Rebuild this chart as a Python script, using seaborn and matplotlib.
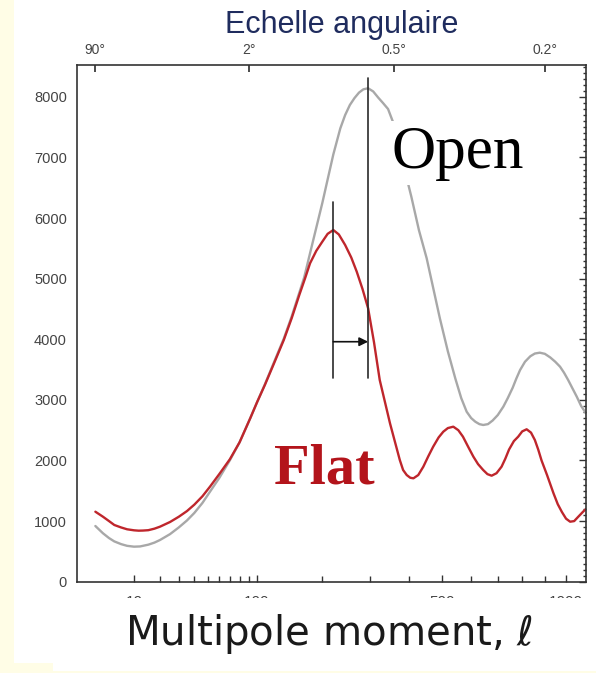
import numpy as np
import pandas as pd
import matplotlib
matplotlib.use("Agg")
import matplotlib.pyplot as plt
import seaborn as sns
from matplotlib.patches import Rectangle
from matplotlib.ticker import MultipleLocator, NullFormatter, NullLocator

# ---------------- data ----------------
ell_flat = [2, 3, 4, 5, 6.5, 8, 10, 11.5, 13, 15, 17.5, 20, 25, 30, 35, 40, 46, 52, 60, 70,
            80, 92, 100, 110, 122, 136, 148, 160, 170, 178, 189, 200, 210, 221, 232, 245,
            258, 270, 283, 296, 310, 324, 350, 376, 385, 395, 405, 414, 428, 443, 458,
            473, 490, 505, 520, 538, 555, 571, 590, 608, 625, 644, 660, 676, 695, 715,
            730, 745, 765, 783, 800, 819, 838, 855, 870, 885, 910, 940, 960, 980, 1000,
            1020, 1040, 1060, 1085, 1100]
cl_flat = [1155, 1073, 1000, 936, 895, 865, 848, 842, 844, 850, 875, 908, 985, 1073, 1165,
           1271, 1410, 1568, 1775, 2020, 2300, 2700, 2960, 3250, 3600, 3988, 4350, 4731,
           5020, 5254, 5460, 5611, 5740, 5803, 5730, 5556, 5350, 5116, 4830, 4511, 3950,
           3328, 2614, 2008, 1843, 1760, 1715, 1706, 1760, 1898, 2070, 2228, 2380, 2475,
           2535, 2558, 2500, 2393, 2220, 2063, 1940, 1843, 1775, 1749, 1790, 1898, 2030,
           2180, 2320, 2393, 2480, 2515, 2460, 2338, 2180, 2000, 1760, 1459, 1280, 1150,
           1040, 990, 1000, 1070, 1155, 1200]

ell_open = [2, 3, 4, 5, 6.5, 8, 10, 12, 15, 17.5, 20, 25, 30, 35, 40, 46, 52, 60, 70, 80,
            92, 100, 110, 122, 136, 148, 160, 168, 178, 190, 200, 209, 221, 235, 245, 255,
            265, 275, 285, 296, 308, 320, 332, 345, 360, 375, 390, 408, 430, 453, 475,
            494, 520, 545, 565, 584, 600, 615, 630, 644, 662, 680, 700, 722, 740, 760,
            775, 791, 812, 835, 855, 877, 900, 925, 948, 971, 990, 1010, 1030, 1053, 1075,
            1100]
cl_open = [919, 800, 720, 665, 620, 592, 578, 582, 611, 645, 688, 785, 897, 1010, 1134,
           1300, 1485, 1711, 2003, 2300, 2700, 2960, 3260, 3620, 4010, 4380, 4770, 5020,
           5420, 5880, 6250, 6600, 7050, 7480, 7700, 7866, 7980, 8070, 8125, 8142, 8090,
           7990, 7900, 7800, 7550, 7150, 6780, 6353, 5800, 5337, 4800, 4347, 3800, 3350,
           3030, 2805, 2700, 2640, 2600, 2586, 2600, 2660, 2750, 2888, 3030, 3200, 3350,
           3493, 3630, 3720, 3765, 3779, 3760, 3700, 3630, 3548, 3450, 3330, 3200, 3053,
           2900, 2780]

x_major = [10, 100, 500, 1000]
x_major_labels = ["10", "100", "500", "1000"]
x_minor = [20, 30, 40, 50, 60, 70, 80, 90, 200, 300, 400, 600, 700, 800, 900]
y_major = [0, 1000, 2000, 3000, 4000, 5000, 6000, 7000, 8000]
angle_ell = [2, 90, 360, 900]
angle_labels = ["90°", "2°", "0.5°", "0.2°"]

peak_flat_ell = 221
peak_open_ell = 296
flat_marker_y = [3360, 6271]
open_marker_y = [3360, 8310]
arrow_y = 3960

x_limits = (0.476, 1100)
y_limits = (0, 8526)

# ---------------- styling ----------------
sns.set_theme(style="white")
plt.rcParams["font.family"] = ["Liberation Sans", "DejaVu Sans"]

GRAY = "#a8a8a8"
RED = "#bf262c"
INK = "#2a2a2a"

fig = plt.figure(figsize=(5.96, 6.73), dpi=100)
fig.patch.set_facecolor("white")
W, H = 596.0, 673.0
L, R, T, B = 76.7, 586.0, 65.0, 581.7
ax = fig.add_axes([L / W, 1 - B / H, (R - L) / W, (B - T) / H])


def fwd(x):
    x = np.asarray(x, dtype=float)
    return np.sign(x) * np.abs(x) ** 0.4


def inv(u):
    u = np.asarray(u, dtype=float)
    return np.sign(u) * np.abs(u) ** 2.5


ax.set_xscale("function", functions=(fwd, inv))

df_open = pd.DataFrame({"ell": ell_open, "cl": cl_open})
df_flat = pd.DataFrame({"ell": ell_flat, "cl": cl_flat})
sns.lineplot(data=df_open, x="ell", y="cl", ax=ax, color=GRAY, lw=1.7, zorder=2)
sns.lineplot(data=df_flat, x="ell", y="cl", ax=ax, color=RED, lw=1.7, zorder=2)

ax.set_xlim(*x_limits)
ax.set_ylim(*y_limits)
ax.set_xlabel("")
ax.set_ylabel("")

# marker lines and arrow
ax.plot([peak_flat_ell, peak_flat_ell], flat_marker_y, color=INK, lw=1.2, zorder=3)
ax.plot([peak_open_ell, peak_open_ell], open_marker_y, color=INK, lw=1.2, zorder=3)
ax.annotate("", xy=(peak_open_ell, arrow_y), xytext=(peak_flat_ell, arrow_y),
            arrowprops=dict(arrowstyle="-|>", color="#111111", lw=1.2,
                            mutation_scale=13, shrinkA=0, shrinkB=0), zorder=4)

# labels with white boxes that hide the curves
ax.text((391.7 - L) / (R - L), (B - 168) / (B - T), "Open", transform=ax.transAxes,
        fontsize=44, family="Liberation Serif", color="black", ha="left", va="baseline",
        bbox=dict(facecolor="white", edgecolor="none", pad=3), zorder=5)
ax.text((273.7 - L) / (R - L), (B - 483.3) / (B - T), "Flat", transform=ax.transAxes,
        fontsize=42, family="Liberation Serif", fontweight="bold", color="#b3141b",
        ha="left", va="baseline",
        bbox=dict(facecolor="white", edgecolor="none", pad=9), zorder=5)

# ticks
ax.set_xticks(x_major, x_major_labels)
ax.set_xticks(x_minor, minor=True)
ax.xaxis.set_minor_formatter(NullFormatter())
ax.set_yticks(y_major, [str(v) for v in y_major])
ax.yaxis.set_minor_locator(MultipleLocator(100))
ax.tick_params(axis="both", which="both", direction="in", top=False, right=True,
               color="#333333", width=1.0)
ax.tick_params(axis="x", which="major", length=5, labelsize=11, pad=9.5, labelcolor="#444444")
ax.tick_params(axis="x", which="minor", length=4)
ax.tick_params(axis="y", which="major", length=5, labelsize=10.5, pad=7, labelcolor="#444444")
ax.tick_params(axis="y", which="minor", length=2.5)
for s in ax.spines.values():
    s.set_color("#333333")
    s.set_linewidth(1.2)

# top angular axis
ax2 = ax.twiny()
ax2.set_xscale("function", functions=(fwd, inv))
ax2.set_xlim(*x_limits)
ax2.set_xticks(angle_ell, angle_labels)
ax2.xaxis.set_minor_locator(NullLocator())
ax2.tick_params(axis="x", direction="in", length=5, labelsize=10, pad=6,
                labelcolor="#444444", color="#333333")
for s in ax2.spines.values():
    s.set_visible(False)

# cover the lower part of the bottom tick labels (as in the reference)
fig.add_artist(Rectangle((0, 0), 1, 1 - 598 / H, transform=fig.transFigure,
                         facecolor="white", edgecolor="none", zorder=1))
YEL = "#fffde6"
fig.add_artist(Rectangle((0, 0), 14 / W, 1, transform=fig.transFigure,
                         facecolor=YEL, edgecolor="none", zorder=1.5))
fig.add_artist(Rectangle((0, 0), 53 / W, 10 / H, transform=fig.transFigure,
                         facecolor=YEL, edgecolor="none", zorder=1.5))
fig.add_artist(Rectangle((0, 0), 1, 2.5 / H, transform=fig.transFigure,
                         facecolor=YEL, edgecolor="none", zorder=1.5))

fig.text(342 / W, 1 - 33 / H, "Echelle angulaire", ha="center", va="baseline",
         fontsize=22, color="#1f2c5e", zorder=3)
fig.text(329.5 / W, 1 - 645 / H, r"Multipole moment, $\ell$", ha="center", va="baseline",
         fontsize=29, family="DejaVu Sans", color="#1a1a1a", zorder=3)

fig.savefig("out.png", dpi=100, facecolor=fig.get_facecolor())
